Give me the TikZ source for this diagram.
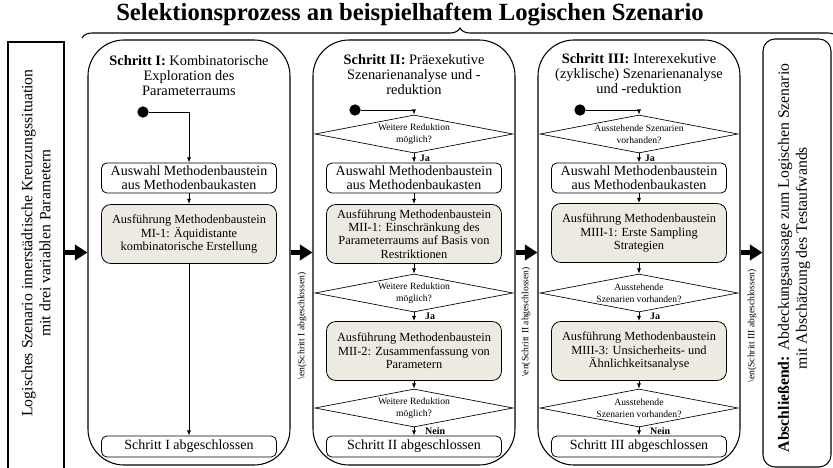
\documentclass[tikz,border=0pt]{standalone}
\usepackage{fontspec}
\setmainfont{Liberation Serif}
\usetikzlibrary{arrows.meta,shapes.geometric,decorations.pathreplacing}

\definecolor{ausfgrau}{RGB}{237,235,225}

\tikzset{
	spalte/.style={draw, line width=0.8pt, rounded corners=27pt, minimum width=151.5pt, minimum height=318.75pt, inner sep=0pt},
	randbox/.style={draw, line width=0.8pt, inner sep=0pt},
	kopf/.style={align=center, font=\fontsize{10.8}{11.25}\selectfont},
	auswahl/.style={draw, line width=0.6pt, rounded corners=4pt, minimum width=131.25pt, minimum height=22.5pt, inner sep=1pt, align=center, font=\fontsize{10.5}{10.8}\selectfont},
	ausf/.style={auswahl, fill=ausfgrau, rounded corners=7pt, minimum height=44.25pt, font=\fontsize{9.3}{10}\selectfont},
	ende/.style={auswahl, minimum height=15.75pt},
	frage/.style={draw, line width=0.5pt, diamond, aspect=5, minimum width=148.5pt, minimum height=28.5pt, inner sep=0pt, align=center, font=\fontsize{7.2}{9}\selectfont},
	startpkt/.style={circle, fill=black, minimum size=8.5pt, inner sep=0pt},
	pfeil/.style={line width=0.75pt, -{Latex[length=4pt,width=3.2pt]}},
	dick/.style={line width=3.5pt, -{Triangle[length=9.5pt,width=11.5pt]}},
	antw/.style={font=\fontsize{7.5}{8}\selectfont\bfseries, anchor=west, inner sep=0pt, xshift=4pt},
	enlbl/.style={rotate=90, font=\fontsize{7.2}{8}\selectfont},
	seite/.style={rotate=90, align=center, font=\fontsize{11.8}{13.5}\selectfont},
}

\begin{document}
\begin{tikzpicture}[x=0.75pt, y=-0.75pt]
	\useasboundingbox (0,0) rectangle (833,468);
	
	%%%%% KOPF %%%%%
	\node[font=\fontsize{18.5}{20}\selectfont\bfseries] (titel) at (410,15) {Selektionsprozess an beispielhaftem Logischen Szenario};
	\coordinate (kl) at (82,38);
	\coordinate (kr) at (838,38);
	\draw[decorate, decoration={brace, amplitude=7.5pt}, line width=0.8pt] (kl) -- (kr);
	
	%%%%% RAND %%%%%
	\node[randbox, minimum width=42pt, minimum height=336pt] (lbox) at (36,266) {};
	\node[seite] (ltext) at (36,243) {Logisches Szenario innerstädtische Kreuzungssituation\\mit drei variablen Parametern};
	
	\node[randbox, rounded corners=9pt, minimum width=51pt, minimum height=321pt] (fin) at (797,253) {};
	\node[seite] (ftext) at (794,258) {\textbf{Abschließend:} Abdeckungsaussage zum Logischen Szenario\\mit Abschätzung des Testaufwands};
	
	%%%%% SPALTEN %%%%%
	\node[spalte] (s1) at (189,252.5) {};
	\node[spalte] (s2) at (414,252.5) {};
	\node[spalte] (s3) at (639,252.5) {};
	
	\draw[dick] (s1.west -| lbox.east) -- (s1.west);
	\draw[dick] (s1) -- (s2);
	\draw[dick] (s2) -- (s3);
	\draw[dick] (s3) -- (s3.east -| fin.west);
	
	\node[enlbl] (l1) at (302,326) {\textbackslash en(Schritt I abgeschlossen)};
	\node[enlbl] (l2) at (526,322) {\textbackslash en(Schritt II abgeschlossen)};
	\node[enlbl] (l3) at (752,326) {\textbackslash en(Schritt III abgeschlossen)};
	
	%%%%% SCHRITT I %%%%%
	\node[kopf] (t1) at (189,76) {\textbf{Schritt I:} Kombinatorische\\Exploration des\\Parameterraums};
	\node[startpkt] (d1) at (143,112) {};
	\node[auswahl] (a1) at (189,178) {Auswahl Methodenbaustein\\aus Methodenbaukasten};
	\node[ausf] (g1) at (189,234) {Ausführung Methodenbaustein\\MI-1: Äquidistante\\kombinatorische Erstellung};
	\node[ende] (e1) at (189,446.5) {Schritt I abgeschlossen};
	
	\draw[pfeil] (d1) -| (a1);
	\draw[pfeil] (a1) -- (g1);
	\draw[pfeil] (g1) -- (e1);
	
	%%%%% SCHRITT II %%%%%
	\node[kopf] (t2) at (414,75) {\textbf{Schritt II:} Präexekutive\\Szenarienanalyse und -\\reduktion};
	\node[startpkt] (d2) at (355,110) {};
	\node[frage] (q21) at (414,134) {Weitere Reduktion\\möglich?};
	\node[auswahl] (a2) at (414,178) {Auswahl Methodenbaustein\\aus Methodenbaukasten};
	\node[ausf] (g21) at (414,234) {Ausführung Methodenbaustein\\MII-1: Einschränkung des\\Parameterraums auf Basis von\\Restriktionen};
	\node[frage] (q22) at (414,293) {Weitere Reduktion\\möglich?};
	\node[ausf] (g22) at (414,351) {Ausführung Methodenbaustein\\MII-2: Zusammenfassung von\\Parametern};
	\node[frage] (q23) at (414,408) {Weitere Reduktion\\möglich?};
	\node[ende] (e2) at (414,446.5) {Schritt II abgeschlossen};
	
	\draw[pfeil] (d2) -| (q21);
	\draw[pfeil] (q21) -- node[antw] {Ja} (a2);
	\draw[pfeil] (a2) -- (g21);
	\draw[pfeil] (g21) -- (q22);
	\draw[pfeil] (q22) -- node[antw, xshift=4pt] {Ja} (g22);
	\draw[pfeil] (g22) -- (q23);
	\draw[pfeil] (q23) -- node[antw, xshift=4pt] {Nein} (e2);
	
	%%%%% SCHRITT III %%%%%
	\node[kopf] (t3) at (639,74) {\textbf{Schritt III:} Interexekutive\\(zyklische) Szenarienanalyse\\und -reduktion};
	\node[startpkt] (d3) at (580,110) {};
	\node[frage] (q31) at (639,134) {Ausstehende Szenarien\\vorhanden?};
	\node[auswahl] (a3) at (639,178) {Auswahl Methodenbaustein\\aus Methodenbaukasten};
	\node[ausf] (g31) at (639,233) {Ausführung Methodenbaustein\\MIII-1: Erste Sampling\\Strategien};
	\node[frage] (q32) at (639,293) {Ausstehende\\Szenarien vorhanden?};
	\node[ausf] (g32) at (639,351) {Ausführung Methodenbaustein\\MIII-3: Unsicherheits- und\\Ähnlichkeitsanalyse};
	\node[frage] (q33) at (639,408) {Ausstehende\\Szenarien vorhanden?};
	\node[ende] (e3) at (639,446.5) {Schritt III abgeschlossen};
	
	\draw[pfeil] (d3) -| (q31);
	\draw[pfeil] (q31) -- node[antw] {Ja} (a3);
	\draw[pfeil] (a3) -- (g31);
	\draw[pfeil] (g31) -- (q32);
	\draw[pfeil] (q32) -- node[antw, xshift=4pt] {Ja} (g32);
	\draw[pfeil] (g32) -- (q33);
	\draw[pfeil] (q33) -- node[antw, xshift=4pt] {Nein} (e3);
\end{tikzpicture}
\end{document}
